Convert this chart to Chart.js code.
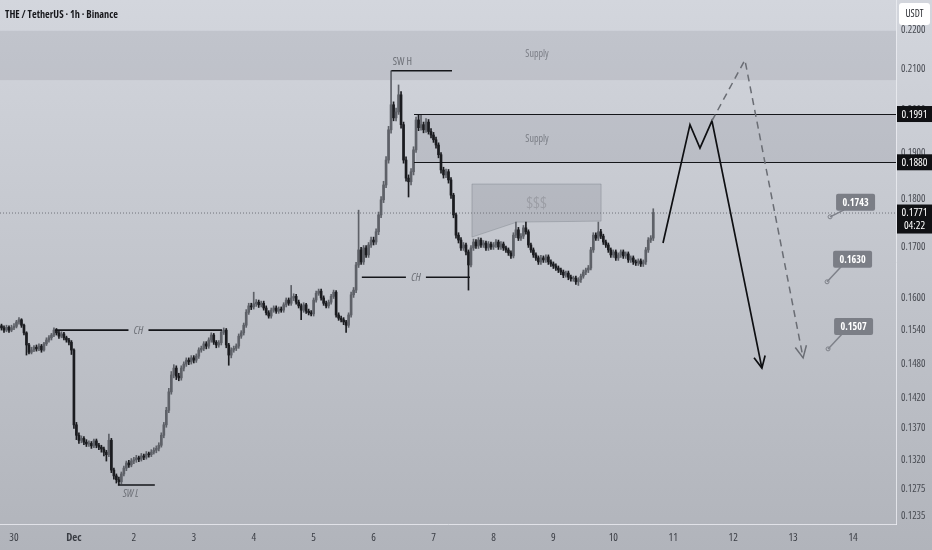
<!DOCTYPE html>
<html>
<head>
<meta charset="utf-8">
<title>THE / TetherUS · 1h · Binance</title>
<script src="https://cdn.jsdelivr.net/npm/chart.js@4.4.1/dist/chart.umd.min.js"></script>
<style>
  html, body { margin: 0; padding: 0; background: #c3c6cd; }
  #wrap { position: relative; width: 932px; height: 550px; }
</style>
</head>
<body>
<div id="wrap"><canvas id="chart"></canvas></div>
<script>
/* THE/USDT 1h candles (hour 0 = Dec 1 00:00) */

const firstHour = -29;

const opens = [
  .1548,.1544,.1540,.1545,.1540,.1544,.1547,.1555,.1559,.1549,.1535,.1513,.1500,.1504,.1509,.1506,.1511,.1504,.1515,.1522,.1526,.1531,.1540,.1535,.1529,.1533,.1526,.1522,.1518,
  .1504,.1376,.1359,.1351,.1354,.1348,.1345,.1346,.1342,.1350,.1343,.1340,.1337,.1332,.1328,.1351,.1304,.1295,.1289,.1286,.1298,.1307,.1315,.1312,
  .1318,.1320,.1323,.1321,.1326,.1324,.1329,.1328,.1332,.1335,.1338,.1343,.1359,.1376,.1400,.1431,.1460,.1472,.1458,.1455,.1472,.1479,.1486,.1483,
  .1490,.1486,.1493,.1504,.1507,.1515,.1511,.1522,.1531,.1518,.1513,.1517,.1536,.1540,.1513,.1495,.1504,.1507,.1511,.1529,.1535,.1549,.1573,.1585,
  .1583,.1589,.1592,.1587,.1590,.1581,.1572,.1566,.1577,.1581,.1575,.1579,.1577,.1587,.1596,.1590,.1600,.1603,.1592,.1585,.1577,.1587,.1575,.1572,
  .1570,.1596,.1609,.1613,.1600,.1590,.1585,.1592,.1603,.1611,.1568,.1562,.1559,.1555,.1549,.1568,.1606,.1615,.1664,.1694,.1670,.1698,.1684,.1704,
  .1714,.1710,.1731,.1766,.1798,.1830,.1885,.1954,.2013,.1982,.1996,.2037,.1966,.1885,.1845,.1837,.1859,.1908,.1977,.1959,.1966,.1954,.1972,.1950,
  .1942,.1931,.1919,.1897,.1863,.1852,.1859,.1841,.1808,.1766,.1724,.1714,.1698,.1704,.1690,.1664,.1698,.1710,.1702,.1714,.1704,.1708,.1698,.1706,
  .1700,.1704,.1710,.1700,.1706,.1698,.1694,.1688,.1682,.1724,.1735,.1718,.1722,.1739,.1731,.1704,.1694,.1684,.1678,.1670,.1678,.1674,.1680,.1670,
  .1666,.1662,.1658,.1654,.1650,.1644,.1648,.1640,.1637,.1638,.1631,.1635,.1642,.1650,.1654,.1658,.1694,.1724,.1718,.1731,.1722,.1710,.1704,.1694,
  .1684,.1690,.1678,.1684,.1690,.1682,.1686,.1674,.1678,.1670,.1668,.1672,.1666,.1670,.1694,.1714,.1718
];

const highs = [
  .1551,.1548,.1549,.1548,.1549,.1552,.1558,.1563,.1561,.1551,.1537,.1516,.1509,.1512,.1513,.1515,.1514,.1518,.1526,.1530,.1534,.1544,.1543,.1538,.1537,.1536,.1529,.1525,.1521,
  .1506,.1380,.1363,.1358,.1357,.1352,.1350,.1349,.1353,.1353,.1346,.1343,.1340,.1335,.1361,.1354,.1307,.1298,.1293,.1301,.1310,.1318,.1319,.1322,
  .1324,.1327,.1326,.1330,.1329,.1333,.1332,.1336,.1339,.1342,.1347,.1363,.1380,.1405,.1437,.1466,.1478,.1476,.1463,.1476,.1483,.1490,.1490,.1494,
  .1494,.1497,.1508,.1511,.1519,.1519,.1526,.1535,.1534,.1521,.1521,.1540,.1544,.1543,.1516,.1508,.1511,.1515,.1533,.1539,.1553,.1578,.1590,.1590,
  .1611,.1597,.1596,.1594,.1594,.1585,.1576,.1581,.1585,.1585,.1583,.1583,.1591,.1600,.1600,.1624,.1608,.1607,.1596,.1589,.1591,.1590,.1579,.1576,
  .1600,.1613,.1617,.1617,.1604,.1594,.1596,.1607,.1615,.1614,.1572,.1566,.1563,.1558,.1572,.1611,.1620,.1669,.1776,.1699,.1703,.1703,.1709,.1720,
  .1720,.1737,.1772,.1805,.1838,.1893,.1962,.2096,.2020,.2005,.2061,.2045,.1972,.1892,.1852,.1866,.1915,.1984,.1990,.1989,.1972,.1980,.1978,.1957,
  .1948,.1937,.1924,.1902,.1869,.1865,.1864,.1846,.1812,.1770,.1729,.1719,.1709,.1708,.1694,.1703,.1716,.1715,.1719,.1718,.1713,.1712,.1711,.1710,
  .1709,.1715,.1714,.1711,.1710,.1702,.1698,.1692,.1729,.1751,.1740,.1727,.1744,.1751,.1735,.1708,.1698,.1688,.1682,.1683,.1682,.1684,.1684,.1674,
  .1670,.1666,.1662,.1658,.1654,.1652,.1652,.1644,.1642,.1642,.1639,.1646,.1654,.1658,.1663,.1699,.1729,.1729,.1751,.1736,.1726,.1714,.1708,.1698,
  .1694,.1694,.1688,.1694,.1694,.1690,.1690,.1682,.1682,.1674,.1676,.1676,.1674,.1699,.1719,.1723,.1779
];

const lows = [
  .1540,.1536,.1537,.1536,.1537,.1541,.1544,.1551,.1545,.1531,.1495,.1497,.1497,.1501,.1502,.1503,.1500,.1502,.1512,.1518,.1522,.1528,.1531,.1525,.1526,.1522,.1518,.1513,.1496,
  .1370,.1352,.1346,.1347,.1344,.1341,.1341,.1338,.1339,.1339,.1336,.1332,.1326,.1318,.1325,.1300,.1290,.1284,.1281,.1283,.1295,.1303,.1308,.1309,
  .1314,.1316,.1317,.1318,.1320,.1321,.1324,.1325,.1329,.1331,.1334,.1340,.1355,.1372,.1396,.1427,.1455,.1452,.1450,.1451,.1467,.1475,.1478,.1479,
  .1481,.1482,.1489,.1500,.1503,.1506,.1507,.1518,.1514,.1508,.1509,.1513,.1532,.1508,.1477,.1490,.1500,.1503,.1507,.1525,.1531,.1545,.1569,.1578,
  .1579,.1584,.1582,.1583,.1577,.1568,.1562,.1562,.1573,.1571,.1571,.1573,.1573,.1583,.1586,.1586,.1595,.1588,.1581,.1559,.1573,.1571,.1568,.1566,
  .1566,.1592,.1605,.1596,.1586,.1581,.1581,.1588,.1599,.1564,.1558,.1555,.1550,.1536,.1545,.1564,.1601,.1610,.1659,.1665,.1665,.1679,.1679,.1699,
  .1704,.1705,.1725,.1760,.1792,.1824,.1878,.1946,.1975,.1975,.1990,.1958,.1878,.1838,.1804,.1830,.1852,.1902,.1952,.1953,.1947,.1948,.1944,.1935,
  .1925,.1912,.1890,.1856,.1845,.1846,.1834,.1801,.1760,.1718,.1708,.1693,.1693,.1684,.1615,.1660,.1693,.1697,.1697,.1699,.1699,.1693,.1693,.1695,
  .1695,.1699,.1695,.1695,.1693,.1689,.1683,.1677,.1678,.1719,.1713,.1713,.1717,.1726,.1699,.1689,.1679,.1673,.1665,.1665,.1669,.1669,.1665,.1661,
  .1657,.1653,.1649,.1645,.1639,.1640,.1635,.1632,.1632,.1626,.1624,.1630,.1638,.1645,.1649,.1654,.1689,.1713,.1713,.1717,.1705,.1699,.1689,.1679,
  .1679,.1673,.1673,.1679,.1677,.1677,.1669,.1669,.1665,.1663,.1663,.1661,.1661,.1665,.1689,.1709,.1713
];

const closes = [
  .1544,.1540,.1545,.1540,.1544,.1547,.1555,.1559,.1549,.1535,.1513,.1500,.1504,.1509,.1506,.1511,.1504,.1515,.1522,.1526,.1531,.1540,.1535,.1529,.1533,.1526,.1522,.1518,.1504,
  .1376,.1359,.1351,.1354,.1348,.1345,.1346,.1342,.1350,.1343,.1340,.1337,.1332,.1328,.1351,.1304,.1295,.1289,.1286,.1298,.1307,.1315,.1312,.1318,
  .1320,.1323,.1321,.1326,.1324,.1329,.1328,.1332,.1335,.1338,.1343,.1359,.1376,.1400,.1431,.1460,.1472,.1458,.1455,.1472,.1479,.1486,.1483,.1490,
  .1486,.1493,.1504,.1507,.1515,.1511,.1522,.1531,.1518,.1513,.1517,.1536,.1540,.1513,.1495,.1504,.1507,.1511,.1529,.1535,.1549,.1573,.1585,.1583,
  .1589,.1592,.1587,.1590,.1581,.1572,.1566,.1577,.1581,.1575,.1579,.1577,.1587,.1596,.1590,.1600,.1603,.1592,.1585,.1577,.1587,.1575,.1572,.1570,
  .1596,.1609,.1613,.1600,.1590,.1585,.1592,.1603,.1611,.1568,.1562,.1559,.1555,.1549,.1568,.1606,.1615,.1664,.1694,.1670,.1698,.1684,.1704,.1714,
  .1710,.1731,.1766,.1798,.1830,.1885,.1954,.2013,.1982,.1996,.2037,.1966,.1885,.1845,.1837,.1859,.1908,.1977,.1959,.1966,.1954,.1972,.1950,.1942,
  .1931,.1919,.1897,.1863,.1852,.1859,.1841,.1808,.1766,.1724,.1714,.1698,.1704,.1690,.1664,.1698,.1710,.1702,.1714,.1704,.1708,.1698,.1706,.1700,
  .1704,.1710,.1700,.1706,.1698,.1694,.1688,.1682,.1724,.1735,.1718,.1722,.1739,.1731,.1704,.1694,.1684,.1678,.1670,.1678,.1674,.1680,.1670,.1666,
  .1662,.1658,.1654,.1650,.1644,.1648,.1640,.1637,.1638,.1631,.1635,.1642,.1650,.1654,.1658,.1694,.1724,.1718,.1731,.1722,.1710,.1704,.1694,.1684,
  .1690,.1678,.1684,.1690,.1682,.1686,.1674,.1678,.1670,.1668,.1672,.1666,.1670,.1694,.1714,.1718,.1771
];

// axis ticks
const dayTicks  = [-24, 0, 24, 48, 72, 96, 120, 144, 168, 192, 216, 240, 264, 288, 312];
const dayLabels = ['30', 'Dec', '2', '3', '4', '5', '6', '7', '8', '9', '10', '11', '12', '13', '14'];
const priceTicks = [0.2200, 0.2100, 0.2000, 0.1900, 0.1800, 0.1700, 0.1600, 0.1540, 0.1480, 0.1420, 0.1370, 0.1320, 0.1275, 0.1235];

// drawings (hour, price)
const supplyTop = [0.2198, 0.2073];
const supplyMid = [0.1991, 0.1880];
const supplyMidFrom = 137;
const chMarks = [
  { price: 0.1540, from: -7.6, to: 59.3, text: 'CH' },
  { price: 0.1640, from: 115.3, to: 158.6, text: 'CH' }
];
const swLow  = { price: 0.1281, from: 17.6, to: 32.4, text: 'SW L' };
const swHigh = { price: 0.2096, from: 127.1, to: 151.4, text: 'SW H' };
const liquidityBox = [[159.4, 0.1832], [211.1, 0.1832], [211.1, 0.1753], [177.4, 0.1751], [159.4, 0.1720]];
const pathMain = [[235.9, 0.1708], [246.7, 0.1966], [250.7, 0.1912], [255.5, 0.1975], [275.5, 0.1472]];
const pathAlt  = [[255.5, 0.1975], [268.7, 0.2123], [292.0, 0.1490]];
const targets = [
  { text: '0.1743', hour: 302.8, price: 0.1762, dy: -23 },
  { text: '0.1630', hour: 301.6, price: 0.1631, dy: -31 },
  { text: '0.1507', hour: 302.0, price: 0.1506, dy: -31 }
];
const priceTags = [
  { price: 0.1991, text: '0.1991' },
  { price: 0.1880, text: '0.1880' },
  { price: 0.1771, text: '0.1771', sub: '04:22' }
];
const lastPrice = 0.1771;

const UP = '#5e6168';
const DOWN = '#1b1c20';

// pick the narrowest installed sans face (the reference uses a condensed one)
const probe = document.createElement('canvas').getContext('2d');
const faces = [
  { stretch: '', family: "'Liberation Sans Narrow'" },
  { stretch: '', family: "'DejaVu Sans Condensed'" },
  { stretch: '', family: "'Roboto Condensed'" },
  { stretch: 'condensed ', family: "'Noto Sans'" },
  { stretch: 'condensed ', family: "'Open Sans'" },
  { stretch: 'condensed ', family: "'DejaVu Sans'" },
  { stretch: '', family: "'Liberation Sans'" }
];
let face = faces[faces.length - 1], best = Infinity;
faces.forEach(f => {
  probe.font = f.stretch + '20px ' + f.family + ', monospace';
  const w = probe.measureText('0.2100 TetherUS Binance').width;
  if (w < best) { best = w; face = f; }
});
const FAMILY = face.family + ', sans-serif';
const fontStr = (px, extra) => (extra ? extra + ' ' : '') + face.stretch + px + 'px ' + FAMILY;
probe.font = fontStr(10);
const tickSize = Math.max(8.5, Math.min(11, 10 * 24.5 / probe.measureText('0.1600').width));

function fitText(ctx, text, x, y, width) {
  const w = ctx.measureText(text).width;
  const s = Math.min(1, width / w);
  ctx.save();
  ctx.translate(x, y);
  ctx.scale(s, 1);
  ctx.fillText(text, 0, 0);
  ctx.restore();
}

const n = Math.min(opens.length, highs.length, lows.length, closes.length);
const bodies = [], wicks = [], colors = [];
for (let i = 0; i < n; i++) {
  const h = firstHour + i;
  bodies.push({ x: h, y: [opens[i], closes[i]] });
  wicks.push({ x: h, y: [lows[i], highs[i]] });
  colors.push(closes[i] >= opens[i] ? UP : DOWN);
}

function arrowHead(ctx, x0, y0, x1, y1, len) {
  const a = Math.atan2(y1 - y0, x1 - x0);
  ctx.beginPath();
  ctx.moveTo(x1 - len * Math.cos(a - 0.45), y1 - len * Math.sin(a - 0.45));
  ctx.lineTo(x1, y1);
  ctx.lineTo(x1 - len * Math.cos(a + 0.45), y1 - len * Math.sin(a + 0.45));
  ctx.stroke();
}

function roundRect(ctx, x, y, w, h, r) {
  ctx.beginPath();
  ctx.moveTo(x + r, y);
  ctx.lineTo(x + w - r, y); ctx.quadraticCurveTo(x + w, y, x + w, y + r);
  ctx.lineTo(x + w, y + h - r); ctx.quadraticCurveTo(x + w, y + h, x + w - r, y + h);
  ctx.lineTo(x + r, y + h); ctx.quadraticCurveTo(x, y + h, x, y + h - r);
  ctx.lineTo(x, y + r); ctx.quadraticCurveTo(x, y, x + r, y);
  ctx.closePath();
}

const overlay = {
  id: 'overlay',
  beforeDraw(chart) {
    const { ctx, width, height } = chart;
    const g = ctx.createLinearGradient(0, 0, 0, height);
    g.addColorStop(0, '#d3d6dd');
    g.addColorStop(1, '#b1b4bb');
    ctx.save();
    ctx.fillStyle = g;
    ctx.fillRect(0, 0, width, height);
    ctx.restore();
  },
  beforeDatasetsDraw(chart) {
    const { ctx, chartArea: a } = chart;
    const X = chart.scales.x, Y = chart.scales.y;
    ctx.save();
    // top supply band
    let y0 = Y.getPixelForValue(supplyTop[0]), y1 = Y.getPixelForValue(supplyTop[1]);
    ctx.fillStyle = 'rgba(80,85,96,0.12)';
    ctx.fillRect(a.left, y0, a.right - a.left, y1 - y0);
    ctx.fillStyle = '#7b7e86';
    ctx.font = fontStr(10);
    ctx.textAlign = 'center';
    ctx.textBaseline = 'middle';
    ctx.fillText('Supply', 537, (y0 + y1) / 2 - 1);
    // middle supply box
    const xm = X.getPixelForValue(supplyMidFrom);
    y0 = Y.getPixelForValue(supplyMid[0]); y1 = Y.getPixelForValue(supplyMid[1]);
    ctx.fillStyle = 'rgba(80,85,96,0.12)';
    ctx.fillRect(xm, y0, a.right - xm, y1 - y0);
    ctx.fillStyle = '#7b7e86';
    ctx.fillText('Supply', 537, (y0 + y1) / 2 + 1);
    // liquidity box
    ctx.beginPath();
    liquidityBox.forEach(([h, p], i) => {
      const px = X.getPixelForValue(h), py = Y.getPixelForValue(p);
      i ? ctx.lineTo(px, py) : ctx.moveTo(px, py);
    });
    ctx.closePath();
    ctx.fillStyle = 'rgba(90,95,106,0.16)';
    ctx.fill();
    ctx.strokeStyle = 'rgba(110,114,122,0.35)';
    ctx.lineWidth = 1;
    ctx.stroke();
    ctx.fillStyle = 'rgba(150,153,160,0.85)';
    ctx.font = fontStr(16);
    const bx = (X.getPixelForValue(liquidityBox[0][0]) + X.getPixelForValue(liquidityBox[1][0])) / 2;
    ctx.fillText('$$$', bx, Y.getPixelForValue(0.1790));
    // last price dotted line
    const yl = Y.getPixelForValue(lastPrice);
    ctx.strokeStyle = '#70737a';
    ctx.setLineDash([1, 2]);
    ctx.beginPath(); ctx.moveTo(a.left, yl + 0.5); ctx.lineTo(a.right, yl + 0.5); ctx.stroke();
    ctx.restore();
  },
  afterDatasetsDraw(chart) {
    const { ctx, chartArea: a } = chart;
    const X = chart.scales.x, Y = chart.scales.y;
    const px = h => X.getPixelForValue(h), py = p => Y.getPixelForValue(p);
    ctx.save();
    // supply box edges
    ctx.strokeStyle = '#15161a';
    ctx.lineWidth = 1.2;
    supplyMid.forEach(p => {
      const y = Math.round(py(p)) + 0.5;
      ctx.beginPath(); ctx.moveTo(px(supplyMidFrom) - 2, y); ctx.lineTo(a.right, y); ctx.stroke();
    });
    // CH lines
    ctx.font = fontStr(11, 'italic');
    ctx.textAlign = 'center';
    ctx.textBaseline = 'middle';
    chMarks.forEach(m => {
      const y = py(m.price), xa = px(m.from), xb = px(m.to), xc = (xa + xb) / 2;
      ctx.strokeStyle = '#15161a';
      ctx.lineWidth = 1.6;
      ctx.beginPath();
      ctx.moveTo(xa, y); ctx.lineTo(xc - 10, y);
      ctx.moveTo(xc + 10, y); ctx.lineTo(xb, y);
      ctx.stroke();
      ctx.fillStyle = '#6c6f76';
      ctx.fillText(m.text, xc, y + 1);
    });
    // swing marks
    [swLow, swHigh].forEach((m, k) => {
      const y = py(m.price);
      ctx.strokeStyle = '#15161a';
      ctx.lineWidth = 1.6;
      ctx.beginPath(); ctx.moveTo(px(m.from), y); ctx.lineTo(px(m.to), y); ctx.stroke();
      ctx.fillStyle = '#6c6f76';
      ctx.font = fontStr(10.5, k ? '' : 'italic');
      ctx.fillText(m.text, px(m.from) + (k ? 11 : 13), y + (k ? -9 : 9));
    });
    // projected paths
    ctx.strokeStyle = '#0e0f12';
    ctx.lineWidth = 1.7;
    ctx.beginPath();
    pathMain.forEach(([h, p], i) => i ? ctx.lineTo(px(h), py(p)) : ctx.moveTo(px(h), py(p)));
    ctx.stroke();
    let m1 = pathMain[pathMain.length - 2], m2 = pathMain[pathMain.length - 1];
    arrowHead(ctx, px(m1[0]), py(m1[1]), px(m2[0]), py(m2[1]), 13);

    ctx.strokeStyle = '#6a6d74';
    ctx.lineWidth = 1.5;
    ctx.setLineDash([7, 5]);
    ctx.beginPath();
    pathAlt.forEach(([h, p], i) => i ? ctx.lineTo(px(h), py(p)) : ctx.moveTo(px(h), py(p)));
    ctx.stroke();
    ctx.setLineDash([]);
    m1 = pathAlt[pathAlt.length - 2]; m2 = pathAlt[pathAlt.length - 1];
    arrowHead(ctx, px(m1[0]), py(m1[1]), px(m2[0]), py(m2[1]), 13);

    // target callouts
    ctx.font = fontStr(10, 'bold');
    targets.forEach(t => {
      const ax = px(t.hour), ay = py(t.price);
      const bxl = ax + 6, byt = ay + t.dy, bw = 39, bh = 17;
      ctx.strokeStyle = '#7e8189';
      ctx.lineWidth = 1.5;
      ctx.beginPath(); ctx.moveTo(ax, ay); ctx.lineTo(bxl + 8, byt + bh - 1); ctx.stroke();
      ctx.lineWidth = 1;
      ctx.beginPath(); ctx.arc(ax, ay, 2, 0, Math.PI * 2); ctx.stroke();
      ctx.fillStyle = '#7b7e86';
      roundRect(ctx, bxl, byt, bw, bh, 2);
      ctx.fill();
      ctx.fillStyle = '#ffffff';
      ctx.fillText(t.text, bxl + bw / 2, byt + bh / 2 + 0.5);
    });
    ctx.restore();
  },
  afterDraw(chart) {
    const { ctx, chartArea: a, width } = chart;
    const Y = chart.scales.y;
    ctx.save();
    ctx.textBaseline = 'middle';
    ctx.font = fontStr(11);
    priceTags.forEach(t => {
      const y = Y.getPixelForValue(t.price);
      const h = t.sub ? 29 : 16;
      ctx.fillStyle = '#101114';
      ctx.fillRect(a.right + 1, y - 8, width - a.right - 1, h);
      ctx.fillStyle = '#ffffff';
      const cx = (a.right + width) / 2 + 0.5;
      ctx.textAlign = 'left';
      const tw = Math.min(27, ctx.measureText(t.text).width);
      fitText(ctx, t.text, cx - tw / 2, y + 0.5, 27);
      if (t.sub) fitText(ctx, t.sub, cx - Math.min(24, ctx.measureText(t.sub).width) / 2, y + 13.5, 24);
    });
    // currency box
    ctx.fillStyle = '#ffffff';
    roundRect(ctx, a.right + 3, 3, 31, 22, 3);
    ctx.fill();
    ctx.fillStyle = '#2a2c31';
    ctx.font = fontStr(10);
    ctx.textAlign = 'left';
    const uw = Math.min(21, ctx.measureText('USDT').width);
    fitText(ctx, 'USDT', a.right + 18.5 - uw / 2, 14.5, 21);
    // title
    ctx.fillStyle = '#17181c';
    ctx.font = fontStr(11, 'bold');
    fitText(ctx, 'THE / TetherUS · 1h · Binance', 5, 15, 113);
    ctx.restore();
  }
};

new Chart(document.getElementById('chart'), {
  type: 'bar',
  data: {
    datasets: [
      { data: bodies, backgroundColor: colors, barThickness: 2, minBarLength: 1, grouped: false, borderWidth: 0 },
      { data: wicks, backgroundColor: colors, barThickness: 1, grouped: false, borderWidth: 0 }
    ]
  },
  options: {
    responsive: true,
    maintainAspectRatio: false,
    animation: false,
    events: [],
    layout: { padding: 0 },
    plugins: { legend: { display: false }, tooltip: { enabled: false } },
    scales: {
      x: {
        type: 'linear',
        offset: false,
        min: -29.6,
        max: 329.2,
        grid: { display: false, drawTicks: false },
        border: { display: true, color: 'rgba(236,238,242,0.8)', width: 1 },
        afterBuildTicks: s => { s.ticks = dayTicks.map(v => ({ value: v })); },
        afterFit: s => { s.height = 26; s.paddingLeft = 0; s.paddingRight = 0; },
        ticks: {
          autoSkip: false,
          maxRotation: 0,
          padding: 7,
          color: '#3a3d44',
          font: c => ({ family: FAMILY, size: tickSize + 0.5,
                        weight: (c.tick && c.tick.value === 0 ? 'bold ' : '') + (face.stretch.trim() || 'normal') }),
          callback: v => dayLabels[dayTicks.indexOf(v)]
        }
      },
      y: {
        type: 'logarithmic',
        position: 'right',
        min: 0.1223,
        max: 0.2280,
        grid: { display: false, drawTicks: false },
        border: { display: true, color: 'rgba(236,238,242,0.8)', width: 1 },
        afterBuildTicks: s => { s.ticks = priceTicks.map(v => ({ value: v })); },
        afterFit: s => { s.width = 36; s.paddingTop = 0; s.paddingBottom = 0; },
        ticks: {
          padding: 5,
          color: '#474a51',
          font: { family: FAMILY, size: tickSize, weight: face.stretch.trim() || 'normal' },
          callback: v => Number(v).toFixed(4)
        }
      }
    }
  },
  plugins: [overlay]
});
</script>
</body>
</html>
